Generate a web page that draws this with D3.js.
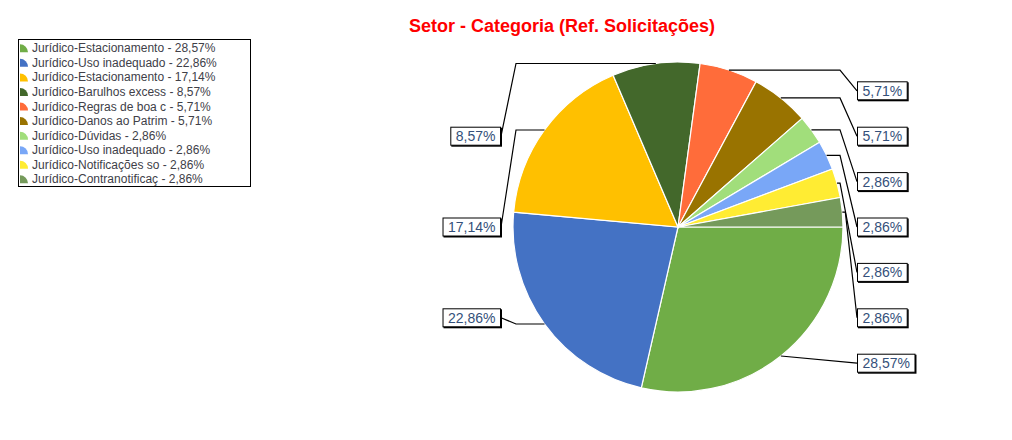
<!DOCTYPE html>
<html><head><meta charset="utf-8">
<script src="https://cdn.jsdelivr.net/npm/d3@7"></script>
<style>body{margin:0;background:#fff}svg{display:block}</style>
</head><body>
<svg id="c" width="1012" height="440"></svg>
<script>
const categories = [
  "Jurídico-Estacionamento",
  "Jurídico-Uso inadequado",
  "Jurídico-Estacionamento",
  "Jurídico-Barulhos excess",
  "Jurídico-Regras de boa c",
  "Jurídico-Danos ao Patrim",
  "Jurídico-Dúvidas",
  "Jurídico-Uso inadequado",
  "Jurídico-Notificações so",
  "Jurídico-Contranotificaç"
];
const values = [28.57, 22.86, 17.14, 8.57, 5.71, 5.71, 2.86, 2.86, 2.86, 2.86];
const valueLabels = ["28,57%","22,86%","17,14%","8,57%","5,71%","5,71%","2,86%","2,86%","2,86%","2,86%"];
const colors = ["#70AD47","#4472C4","#FFC000","#43682B","#FF6C3A","#997300","#A1DE7B","#79A7F7","#FFEC33","#759A5B"];
const title = "Setor - Categoria (Ref. Solicitações)";

const svg = d3.select("#c");
const cx = 678, cy = 227, R = 165;

svg.append("text").attr("x", 562).attr("y", 32).attr("text-anchor","middle")
  .attr("font-family","Liberation Sans, Arial, sans-serif").attr("font-size","18px")
  .attr("font-weight","bold").attr("fill","#FF0000").text(title);

const pie = d3.pie().sort(null).value(d=>d).startAngle(Math.PI/2).endAngle(Math.PI/2 + 2*Math.PI);
const arcs = pie(values);
const arc = d3.arc().innerRadius(0).outerRadius(R);
const g = svg.append("g").attr("transform",`translate(${cx},${cy})`);

g.selectAll("path.s").data(arcs).join("path").attr("class","s")
  .attr("d", arc).attr("fill",(d,i)=>colors[i]).attr("stroke","#fff").attr("stroke-width",1.2);

// label layout
const slot = 45.4;
const info = arcs.map((d,i)=>{
  const a = (d.startAngle + d.endAngle)/2;
  const x = R*Math.sin(a), y = -R*Math.cos(a);
  return {i, x: cx+x, y: cy+y, right: x >= 0};
});
const rightL = info.filter(d=>d.right).sort((a,b)=>a.y-b.y);
rightL.forEach((d,k)=>{ d.ly = cy + (k - 3)*slot; });
const leftL = info.filter(d=>!d.right).sort((a,b)=>b.y-a.y);
leftL.forEach((d,k)=>{ d.ly = cy + (2 - 2*k)*slot; });

const lines = svg.append("g");
const boxes = svg.append("g");
info.forEach(d=>{
  let pts;
  if (d.right) {
    const bx = 857;
    const ex = Math.abs(d.ly - d.y) > 10 ? Math.max(840, d.x + 3) : d.x;
    pts = [[d.x, d.y],[ex, d.y],[bx, d.ly]];
  } else {
    const bx = 501;
    pts = [[d.x, d.y],[516, d.y],[bx, d.ly]];
  }
  lines.append("path").attr("d", d3.line()(pts)).attr("fill","none")
    .attr("stroke","#000").attr("stroke-width",1.2);
  const t = boxes.append("text").attr("font-family","Liberation Sans, Arial, sans-serif")
    .attr("font-size","14px").attr("fill","#34507A").text(valueLabels[d.i]);
  const w = t.node().getComputedTextLength();
  const bw = w + 11, bh = 19;
  const x0 = d.right ? 857 : 501 - bw;
  boxes.insert("rect","text").attr("x", x0+1).attr("y", d.ly - bh/2 + 1).attr("width", bw).attr("height", bh).attr("fill","#000");
  boxes.insert("rect","text").attr("x", x0+0.5).attr("y", d.ly - bh/2 + 0.5).attr("width", bw-1).attr("height", bh-1)
    .attr("fill","#fff").attr("stroke","#000").attr("stroke-width",1);
  t.attr("x", x0 + 5.5).attr("y", d.ly + 5);
  t.raise();
});

// legend
const lg = svg.append("g");
lg.append("rect").attr("x",18.5).attr("y",39.5).attr("width",232).attr("height",147)
  .attr("fill","#fff").attr("stroke","#000").attr("stroke-width",1);
categories.forEach((c,i)=>{
  const by = 52.3 + i*14.56;
  const r = 8, x0 = 20;
  lg.append("path").attr("d", `M${x0},${by} L${x0},${by-r} A${r},${r} 0 0 1 ${x0+r},${by} Z`).attr("fill", colors[i]);
  lg.append("text").attr("x",32).attr("y",by).attr("font-family","Liberation Sans, Arial, sans-serif")
    .attr("font-size","12px").attr("fill","#404048").text(`${c} - ${valueLabels[i]}`);
});
</script>
</body></html>
